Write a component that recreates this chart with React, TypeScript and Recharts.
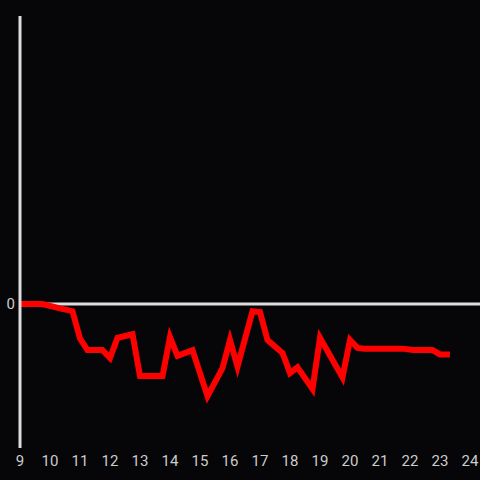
import { Line, LineChart, ReferenceLine, XAxis, YAxis } from "recharts";

// hour of day (decimal) and value for each point of the line
const hours = [
  9, 9.75, 10.33, 10.75, 11, 11.25, 11.75, 12, 12.25, 12.75, 13, 13.75, 14,
  14.25, 14.75, 15.25, 15.75, 16, 16.25, 16.75, 17, 17.25, 17.75, 18, 18.25,
  18.75, 19, 19.75, 20, 20.25, 20.5, 21.75, 22.1, 22.75, 23, 23.33,
];
const values = [
  0, 0, -3, -5, -24, -32, -32, -37.5, -23.5, -21, -50, -50, -23, -36, -32,
  -64, -44.5, -25, -43.5, -5, -5.5, -25, -34, -48, -44, -59, -23.5, -51, -25,
  -30.5, -31, -31, -32, -32, -35, -35,
];
const xTicks = [9, 10, 11, 12, 13, 14, 15, 16, 17, 18, 19, 20, 21, 22, 23, 24];
const yTicks = [0];

const data = hours.map((t, i) => ({ t, v: values[i] }));

const axisColor = "#dddddd";
const tickStyle = { fill: "#cccccc", fontSize: 15, fontFamily: "Roboto" };

export default function App() {
  return (
    <div
      style={{
        position: "absolute",
        top: 0,
        left: 0,
        width: 480,
        height: 480,
        background: "#060508",
      }}
    >
      <LineChart
        width={480}
        height={480}
        data={data}
        margin={{ top: 16, right: 0, left: 0, bottom: 2 }}
      >
        <XAxis
          dataKey="t"
          type="number"
          domain={[9, 9 + 460 / 30]}
          ticks={xTicks}
          allowDataOverflow
          axisLine={false}
          tickLine={false}
          tickSize={5}
          tickMargin={2}
          height={30}
          tick={tickStyle}
          interval={0}
        />
        <YAxis
          type="number"
          domain={[-100, 200]}
          ticks={yTicks}
          width={20}
          axisLine={{ stroke: axisColor, strokeWidth: 3 }}
          tickLine={false}
          tickSize={3}
          tickMargin={2}
          tick={tickStyle}
        />
        <ReferenceLine y={0} stroke={axisColor} strokeWidth={3} />
        <Line
          dataKey="v"
          stroke="#ff0000"
          strokeWidth={6}
          dot={false}
          activeDot={false}
          type="linear"
          isAnimationActive={false}
        />
      </LineChart>
    </div>
  );
}
